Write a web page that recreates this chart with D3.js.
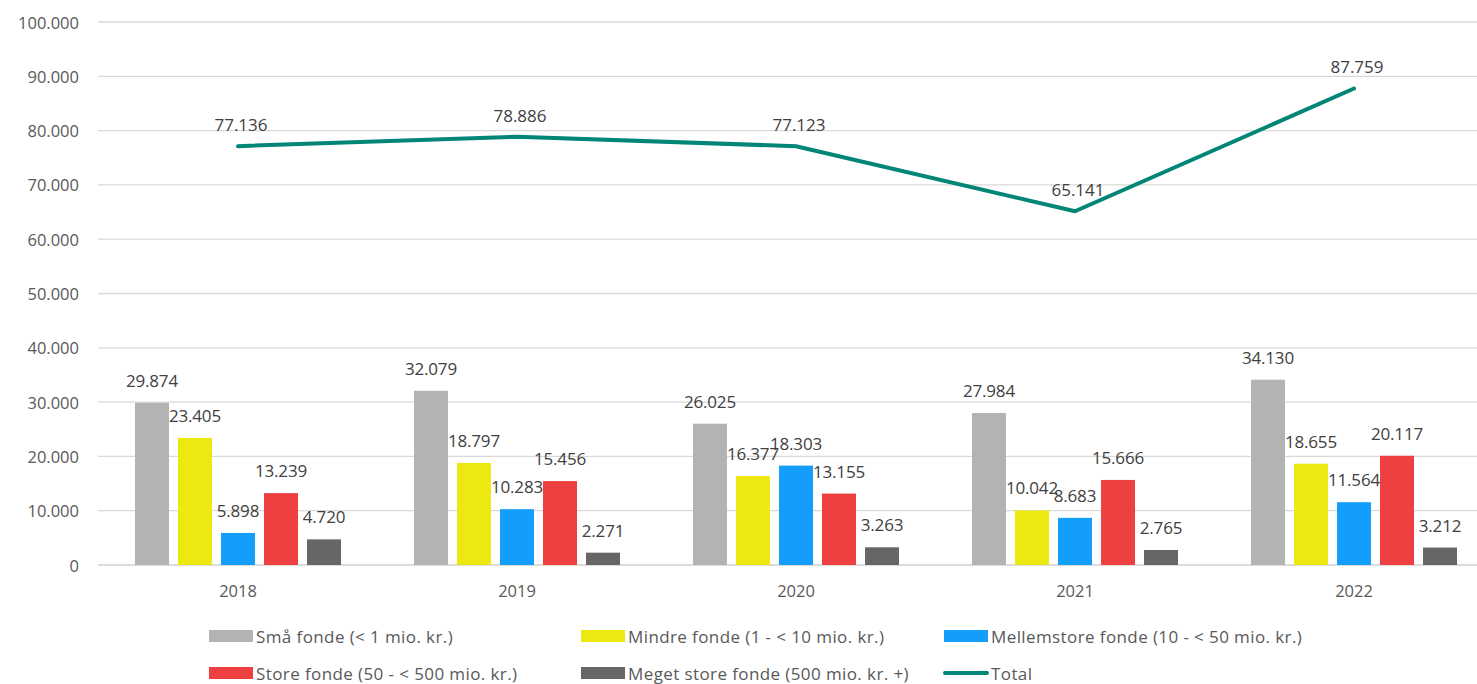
<!DOCTYPE html>
<html>
<head>
<meta charset="utf-8">
<script src="https://cdn.jsdelivr.net/npm/d3@7"></script>
<style>
  html, body { margin: 0; padding: 0; background: #fff; overflow: hidden; }
  svg { display: block; }
</style>
</head>
<body>
<div id="chart"></div>
<script>
/* Fonde efter størrelse – grupperede søjler + total (D3.js) */

const years = ['2018', '2019', '2020', '2021', '2022'];
const seriesNames = [
  'Små fonde (< 1 mio. kr.)',
  'Mindre fonde (1 - < 10 mio. kr.)',
  'Mellemstore fonde (10 - < 50 mio. kr.)',
  'Store fonde (50 - < 500 mio. kr.)',
  'Meget store fonde (500 mio. kr. +)'
];
const smaa = [29874, 32079, 26025, 27984, 34130];
const mindre = [23405, 18797, 16377, 10042, 18655];
const mellemstore = [5898, 10283, 18303, 8683, 11564];
const store = [13239, 15456, 13155, 15666, 20117];
const megetStore = [4720, 2271, 3263, 2765, 3212];
const total = [77136, 78886, 77123, 65141, 87759];
const yTicks = [0, 10000, 20000, 30000, 40000, 50000, 60000, 70000, 80000, 90000, 100000];

const seriesValues = [smaa, mindre, mellemstore, store, megetStore];
const colors = ['#B3B3B3', '#EEE811', '#139EFB', '#EE4040', '#666666'];
const lineColor = '#008577';
const labelColor = '#404040';
const axisColor = '#595959';
const gridColor = '#D9D9D9';
const font = "'Open Sans', sans-serif";

const W = 1477, H = 684;
const svg = d3.select('#chart').append('svg')
  .attr('width', W).attr('height', H);

const x0 = d3.scaleBand().domain(years).range([98.5, 1493.5]).padding(0);
const groupW = 206;
const x1 = d3.scaleBand().domain(d3.range(seriesNames.length))
  .range([0, groupW]).paddingInner(0.21).paddingOuter(0);
const y = d3.scaleLinear().domain([0, 100000]).range([565, 22]);
const fmt = v => d3.format(',')(v).replace(/,/g, '.');

// Grid + y labels
yTicks.forEach(t => {
  svg.append('line')
    .attr('x1', 98).attr('x2', W)
    .attr('y1', y(t)).attr('y2', y(t))
    .attr('stroke', t === 0 ? '#D0D0D0' : gridColor)
    .attr('stroke-width', 1.3);
  svg.append('text')
    .attr('x', 79).attr('y', y(t))
    .attr('text-anchor', 'end')
    .attr('dominant-baseline', 'central')
    .attr('fill', axisColor)
    .attr('font-family', font).attr('font-size', '16.5px')
    .text(t === 0 ? '0' : fmt(t));
});

// X labels
years.forEach(yr => {
  svg.append('text')
    .attr('x', x0(yr) + x0.bandwidth() / 2).attr('y', 597)
    .attr('text-anchor', 'middle')
    .attr('fill', axisColor)
    .attr('font-family', font).attr('font-size', '16.5px')
    .text(yr);
});

// Bars + labels
years.forEach((yr, i) => {
  const gx = x0(yr) + (x0.bandwidth() - groupW) / 2;
  seriesValues.forEach((vals, s) => {
    const v = vals[i];
    const bx = gx + x1(s);
    svg.append('rect')
      .attr('x', bx).attr('y', y(v))
      .attr('width', x1.bandwidth()).attr('height', y(0) - y(v))
      .attr('fill', colors[s]);
    svg.append('text')
      .attr('x', bx + x1.bandwidth() / 2).attr('y', y(v) - 16)
      .attr('text-anchor', 'middle')
      .attr('fill', labelColor)
      .attr('font-family', font).attr('font-size', '17px')
      .attr('letter-spacing', '-0.2px')
      .text(fmt(v));
  });
});

// Total line
const line = d3.line()
  .x((d, i) => x0(years[i]) + x0.bandwidth() / 2)
  .y(d => y(d));
svg.append('path')
  .datum(total)
  .attr('d', line)
  .attr('fill', 'none')
  .attr('stroke', lineColor)
  .attr('stroke-width', 4)
  .attr('stroke-linecap', 'round')
  .attr('stroke-linejoin', 'round');
total.forEach((v, i) => {
  svg.append('text')
    .attr('x', x0(years[i]) + x0.bandwidth() / 2 + 3).attr('y', y(v) - 15)
    .attr('text-anchor', 'middle')
    .attr('fill', labelColor)
    .attr('font-family', font).attr('font-size', '17px')
    .text(fmt(v));
});

// Legend
const legendItems = seriesNames.map((n, s) => ({ name: n, color: colors[s], type: 'rect' }))
  .concat([{ name: 'Total', color: lineColor, type: 'line' }]);
const colX = [209, 581, 944];
const rowY = [636, 673];
legendItems.forEach((d, k) => {
  const lx = colX[k % 3], ly = rowY[Math.floor(k / 3)];
  if (d.type === 'rect') {
    svg.append('rect')
      .attr('x', lx).attr('y', ly - 6)
      .attr('width', 44).attr('height', 12)
      .attr('fill', d.color);
  } else {
    svg.append('line')
      .attr('x1', lx + 1).attr('x2', lx + 43)
      .attr('y1', ly).attr('y2', ly)
      .attr('stroke', d.color).attr('stroke-width', 4)
      .attr('stroke-linecap', 'round');
  }
  svg.append('text')
    .attr('x', lx + 47).attr('y', ly)
    .attr('dominant-baseline', 'central')
    .attr('fill', axisColor)
    .attr('font-family', font).attr('font-size', '17px')
    .attr('letter-spacing', '0.4px')
    .text(d.name);
});
</script>
</body>
</html>
